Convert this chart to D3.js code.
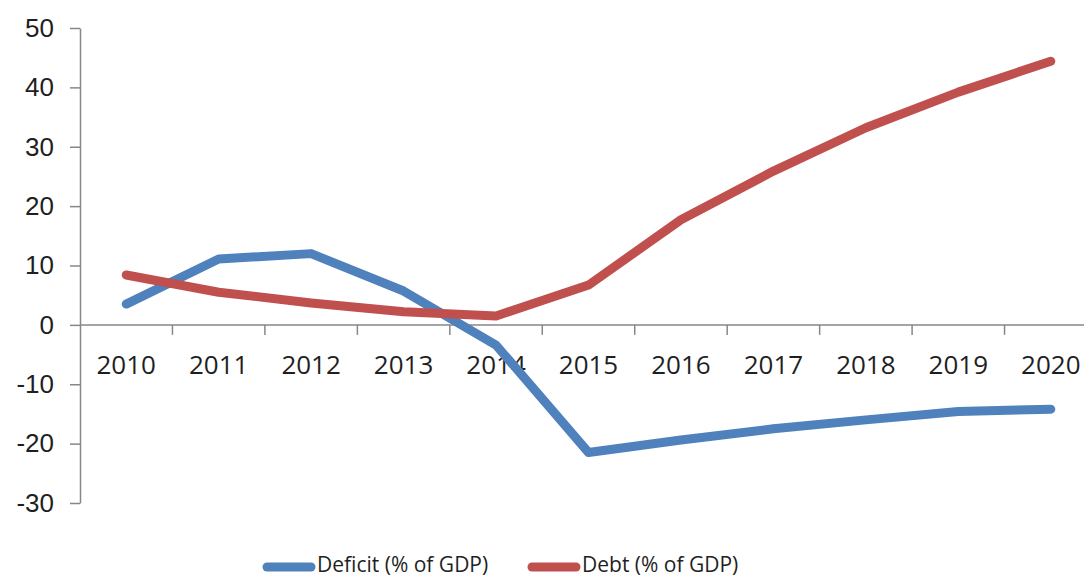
<!DOCTYPE html>
<html>
<head>
<meta charset="utf-8">
<script src="https://cdn.jsdelivr.net/npm/d3@7"></script>
<style>
  body { margin: 0; background: #fff; }
  svg { display: block; font-family: "Open Sans", "Noto Sans", sans-serif; }
</style>
</head>
<body>
<div id="chart"></div>
<script>
// data
const years = ["2010", "2011", "2012", "2013", "2014", "2015", "2016", "2017", "2018", "2019", "2020"];
const deficit = [3.5, 11.1, 12.0, 5.7, -3.4, -21.5, -19.4, -17.5, -16.0, -14.6, -14.2];
const debt = [8.4, 5.5, 3.7, 2.2, 1.5, 6.7, 17.7, 25.9, 33.2, 39.2, 44.4];
const yTicks = [50, 40, 30, 20, 10, 0, -10, -20, -30];
const seriesNames = ["Deficit (% of GDP)", "Debt (% of GDP)"];
const seriesColors = ["#4f81bd", "#c0504d"];

const W = 1084, H = 579;
const svg = d3.select("#chart").append("svg")
    .attr("width", W).attr("height", H);

// category axis runs past the right edge like the cropped original
const x = d3.scaleBand().domain(years).range([80, 1097]).padding(0);
const y = d3.scaleLinear().domain([-30, 50]).range([503, 28]);
const cx = d => x(d) + x.bandwidth() / 2;

const axisColor = "#878787";
const textColor = "#1f1f1f";

// y axis (plain hyphen for negatives, like the original)
const yAxis = svg.append("g")
    .attr("transform", `translate(${x.range()[0]},0)`)
    .call(d3.axisLeft(y).tickValues(yTicks).tickFormat(d => String(d))
        .tickSize(10).tickPadding(16).tickSizeOuter(0));
yAxis.select(".domain").attr("stroke", axisColor).attr("stroke-width", 1.5);
yAxis.selectAll(".tick line").attr("stroke", axisColor).attr("stroke-width", 1.5);
yAxis.selectAll(".tick text")
    .style("font-size", "26px").attr("fill", textColor);

// x axis at zero
const xAxisG = svg.append("g").attr("transform", `translate(0,${y(0)})`);
xAxisG.append("line")
    .attr("x1", x.range()[0]).attr("x2", x.range()[1])
    .attr("stroke", axisColor).attr("stroke-width", 1.5);
// ticks between categories
xAxisG.selectAll(".sep")
    .data(years.slice(1))
    .join("line")
    .attr("class", "sep")
    .attr("x1", d => x(d)).attr("x2", d => x(d))
    .attr("y1", 0).attr("y2", 10)
    .attr("stroke", axisColor).attr("stroke-width", 1.5);
xAxisG.selectAll(".lbl")
    .data(years)
    .join("text")
    .attr("class", "lbl")
    .attr("x", d => cx(d))
    .attr("y", 40)
    .attr("dy", "0.35em")
    .attr("text-anchor", "middle")
    .style("font-size", "26px")
    .attr("fill", textColor)
    .text(d => d);

// lines
const line = d3.line()
    .x((d, i) => cx(years[i]))
    .y(d => y(d));

[deficit, debt].forEach((vals, k) => {
    svg.append("path")
        .datum(vals)
        .attr("d", line)
        .attr("fill", "none")
        .attr("stroke", seriesColors[k])
        .attr("stroke-width", 9)
        .attr("stroke-linejoin", "round")
        .attr("stroke-linecap", "round");
});

// legend
const legendItems = [
    { name: seriesNames[0], color: seriesColors[0], x: 263 },
    { name: seriesNames[1], color: seriesColors[1], x: 528 }
];
const legend = svg.append("g").attr("transform", "translate(0,565)");
legendItems.forEach(it => {
    legend.append("line")
        .attr("x1", it.x + 4).attr("x2", it.x + 48)
        .attr("y1", 2).attr("y2", 2)
        .attr("stroke", it.color).attr("stroke-width", 9)
        .attr("stroke-linecap", "round");
    legend.append("text")
        .attr("x", it.x + 54)
        .attr("y", 0)
        .attr("dy", "0.35em")
        .style("font-size", "21px")
        .attr("fill", textColor)
        .text(it.name);
});
</script>
</body>
</html>
